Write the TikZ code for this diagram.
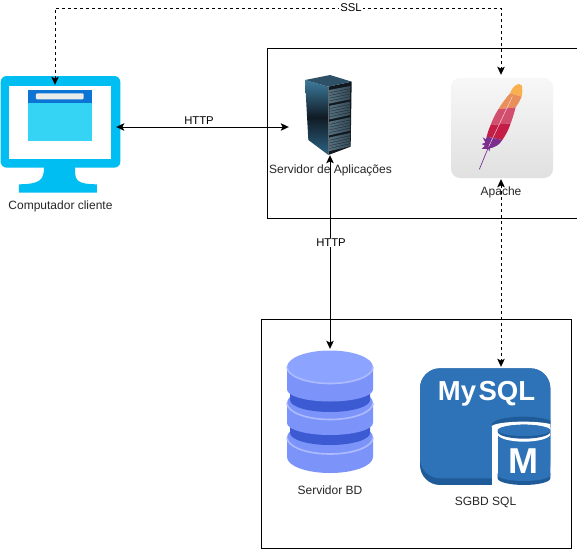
\documentclass[tikz,border=0pt]{standalone}
\usepackage{fontspec}
\setmainfont{Liberation Sans}
\usetikzlibrary{arrows.meta}
\tikzset{
  zoomed/.style 2 args={shift={(#1,#2)},x=0.3333pt,y=-0.3333pt},
  link/.style={draw=black,line width=1pt,{Stealth[length=8pt,width=7.5pt,inset=1.8pt]}-{Stealth[length=8pt,width=7.5pt,inset=1.8pt]}},
  dashlink/.style={link,dash pattern=on 3pt off 3pt},
  anchorbox/.style={inner sep=0pt,minimum width=#1,draw=none},
  caption/.style={font=\fontsize{12}{14}\selectfont,text=black!85,inner sep=0pt},
  linklabel/.style={font=\fontsize{11.3}{14}\selectfont,text=black,fill=white,inner sep=1pt},
  frame/.style={draw=black,line width=1pt,fill=none},
  dbrimline/.style={draw=dbrim,line width=1.6pt}
}
\definecolor{monitor}{HTML}{00BEF2}
\definecolor{winhead}{HTML}{0C74D4}
\definecolor{winbody}{HTML}{35D4F5}
\definecolor{dbtop}{HTML}{8CA4FF}
\definecolor{dbside}{HTML}{7C94FA}
\definecolor{dbrim}{HTML}{AEBCFF}
\definecolor{dbdark}{HTML}{3C5AD2}
\definecolor{mysql}{HTML}{2E73B8}
\definecolor{mysqld}{HTML}{205B99}
\definecolor{rackface}{HTML}{10181E}
\definecolor{racktop}{HTML}{2F5168}
\definecolor{rackhi}{HTML}{3C7C9E}
\definecolor{racklo}{HTML}{2C6484}
\definecolor{rackmid}{HTML}{101B24}
\definecolor{drawerl}{HTML}{55707F}
\definecolor{drawerr}{HTML}{364B58}
\definecolor{feathera}{HTML}{F9B04E}
\definecolor{featherb}{HTML}{E98F5B}
\definecolor{featherc}{HTML}{D24E6E}
\definecolor{featherd}{HTML}{C41E47}
\definecolor{feathere}{HTML}{7B2E8E}
\begin{document}
\begin{tikzpicture}[x=1pt,y=-1pt]
\useasboundingbox (0,0) rectangle (577,549);
\fill[white] (0,0) rectangle (577,549);
% frames
\node[frame,inner sep=0pt,minimum width=310pt,minimum height=170pt] (appframe) at (422,133) {};
\node[frame,inner sep=0pt,minimum width=310pt,minimum height=229pt] (dbframe) at (416,433.5) {};
% client monitor
\begin{scope}[zoomed={0}{60}]
  \fill[monitor] (132,320) .. controls (132,360) and (122,372) .. (57,373) -- (57,398) -- (291,398) -- (291,373) .. controls (225,372) and (225,360) .. (225,320) -- cycle;
  \fill[monitor,rounded corners=6pt] (2,48) rectangle (361,323);
  \fill[white] (28,78) rectangle (333,298);
  \fill[winbody] (84,90) rectangle (276,243);
  \fill[winhead] (84,90) rectangle (276,130);
  \fill[white!92!black,rounded corners=1pt] (108,100) rectangle (251,118);
\end{scope}
% rack
\begin{scope}[zoomed={260}{60}]
  \fill[rackface] (205,80) -- (275,65) -- (272,260) -- (205,285) -- cycle;
  \shade[top color=rackhi,bottom color=racklo,middle color=rackmid] (135,60) -- (205,80) -- (205,285) -- (145,240) -- cycle;
  \fill[racktop] (135,60) -- (210,45) -- (275,65) -- (205,80) -- cycle;
  \foreach \t in {0,1,2,3}{
    \shade[left color=drawerl,right color=drawerr]
      (208,{90+\t*47.5}) -- (271,{78+\t*47}) -- (270,{118+\t*47}) -- (208,{131+\t*47.5}) -- cycle;
    \foreach \k in {1,...,4}
      \draw[rackface,line width=0.25pt] (208,{90+\t*47.5+\k*8.2}) -- (271,{78+\t*47+\k*8});
  }
\end{scope}
% apache tile
\shade[top color=white!97!black,bottom color=black!12,rounded corners=9pt] (451,78) rectangle (553,178);
\begin{scope}[zoomed={440}{0}]
  \fill[feathera] (210,280) .. controls (218,258) and (236,245) .. (245,256) .. controls (248,268) and (247,280) .. (245,290) -- cycle;
  \fill[featherb] (210,280) -- (245,290) .. controls (240,302) and (234,312) .. (227,322) -- (175,328) .. controls (185,310) and (198,295) .. (210,280) -- cycle;
  \fill[featherc] (175,328) -- (227,322) .. controls (222,340) and (218,355) .. (212,370) -- (152,375) .. controls (158,358) and (166,342) .. (175,328) -- cycle;
  \fill[featherd] (152,375) -- (212,370) .. controls (206,390) and (196,406) .. (187,420) -- (140,410) .. controls (143,398) and (147,386) .. (152,375) -- cycle;
  \fill[feathere] (140,410) -- (187,420) .. controls (178,435) and (165,442) .. (150,445) -- (148,455) -- (145,447) -- (125,447) -- (135,437) -- (125,432) -- (136,428) -- (128,412) -- (138,418) -- cycle;
  \draw[feathere,line width=0.7pt] (146,440) -- (118,508);
  \draw[white!90!red,line width=0.4pt] (146,440) -- (217,290);
\end{scope}
% database
\fill[dbside] (287,437.5) -- (287,457) arc[start angle=180,end angle=0,x radius=43,y radius=16] -- (373,437.5) -- cycle;
\fill[dbside] (330,437.5) ellipse[x radius=43,y radius=16.5];
\draw[dbrimline] (287,437.5) arc[start angle=180,end angle=0,x radius=43,y radius=16.5];
\fill[dbdark] (290,415) -- (290,433) arc[start angle=180,end angle=0,x radius=40,y radius=12] -- (370,415) -- cycle;
\fill[dbside] (287,403) -- (287,423) arc[start angle=180,end angle=0,x radius=43,y radius=12] -- (373,403) -- cycle;
\fill[dbside] (330,403) ellipse[x radius=43,y radius=16.5];
\draw[dbrimline] (287,403) arc[start angle=180,end angle=0,x radius=43,y radius=16.5];
\fill[dbdark] (290,385) -- (290,400) arc[start angle=180,end angle=0,x radius=40,y radius=12] -- (370,385) -- cycle;
\fill[dbside] (287,367) -- (287,389.5) arc[start angle=180,end angle=0,x radius=43,y radius=12] -- (373,367) -- cycle;
\fill[dbtop] (330,367) ellipse[x radius=43,y radius=16.5];
\draw[dbrimline] (287,367) arc[start angle=180,end angle=0,x radius=43,y radius=16.5];
% mysql
\begin{scope}[zoomed={410}{350}]
  \fill[mysqld,rounded corners=20pt] (30,55) rectangle (421,405);
  \fill[mysql,rounded corners=20pt] (30,55) rectangle (421,385);
  \begin{scope}
    \clip (30,55) rectangle (421,415);
    \fill[mysqld] (340,224) ellipse[x radius=95,y radius=24];
    \fill[white] (245,230) rectangle (445,405);
    \fill[white] (340,230) ellipse[x radius=95,y radius=15];
    \fill[mysqld] (263,385) arc[start angle=180,end angle=0,x radius=79,y radius=20] -- (421,370) -- (263,370) -- cycle;
    \fill[mysql] (263,250) rectangle (445,375);
    \fill[mysql] (342,375) ellipse[x radius=79,y radius=18];
    \fill[white] (342,252) ellipse[x radius=79,y radius=23];
    \fill[mysqld] (342,245) ellipse[x radius=79,y radius=21];
    \fill[mysql] (342,241) ellipse[x radius=79,y radius=17];
  \end{scope}
\end{scope}
\node[inner sep=0pt,text=white,font=\fontsize{27.5}{28}\selectfont\bfseries] (mysqlword) at (486.5,393.5) {My\hspace{2.5pt}SQL};
\node[inner sep=0pt,text=white,font=\fontsize{36}{36}\selectfont\bfseries] (mysqlm) at (523.5,461.5) {M};
% captions
\node[caption] (clientcap) at (60.5,206) {Computador cliente};
\node[caption] (dbcap) at (330,490.5) {Servidor BD};
\node[caption] (sgbdcap) at (485.5,502.5) {SGBD SQL};
% anchor nodes for connectors
\node[anchorbox=112pt,minimum height=84pt] (client) at (60,127) {};
\node[anchorbox=82pt,minimum height=56pt] (server) at (330,127) {};
\node[anchorbox=100pt,minimum height=104pt] (apache) at (501,127) {};
\node[anchorbox=87pt,minimum height=20pt] (database) at (330,359) {};
\node[anchorbox=130pt,minimum height=20pt] (sgbd) at (501,377) {};
\coordinate (sslright) at (501,8);
\coordinate (sslleft) at (55,8);
% connectors
\draw[link] (client.east) -- (server.west);
\draw[link] (server.south) -- (database.north);
\draw[dashlink] (client.north -| sslleft) -- (sslleft) -- (sslright) -- (apache.north);
\draw[dashlink] (apache.south) -- (sgbd.north);
% labels on top
\node[linklabel,fill=none] (http1) at (199,120.5) {HTTP};
\node[linklabel] (http2) at (331,242.5) {HTTP};
\node[linklabel] (ssl) at (351,8) {SSL};
\node[caption] (servercap) at (330.5,170.5) {Servidor de Aplicações};
\node[caption] (apachecap) at (501,192.5) {Apache};
\end{tikzpicture}
\end{document}
